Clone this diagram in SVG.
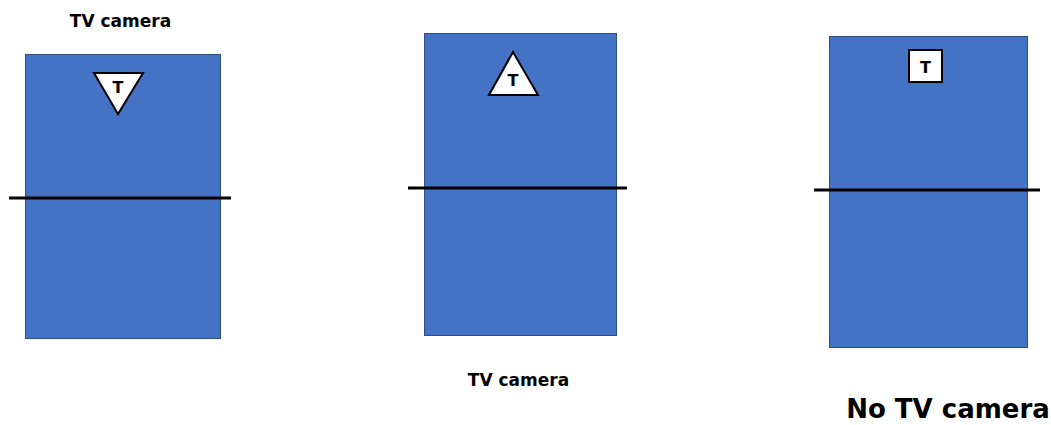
<svg xmlns="http://www.w3.org/2000/svg" width="1051" height="425" viewBox="0 0 1051 425">
<style>
.box{fill:#4472c4;stroke:#2f4f7f;stroke-width:1}
.line{stroke:#000;stroke-width:3}
.mark{fill:#fff;stroke:#000;stroke-width:2}
.t{font-family:"DejaVu Sans",Verdana,sans-serif;font-weight:bold;fill:#000}
</style>
<rect width="1051" height="425" fill="#fff"/>
<g id="panel1">
<rect class="box" x="25.5" y="54.5" width="195" height="284"/>
<line class="line" x1="9" y1="198" x2="231" y2="198"/>
<polygon class="mark" points="94,73 143,73 118,114"/>
<text class="t" x="118" y="93" font-size="16" text-anchor="middle">T</text>
<text class="t" x="120.5" y="27" font-size="17" text-anchor="middle">TV camera</text>
</g>
<g id="panel2">
<rect class="box" x="424.5" y="33.5" width="192" height="302"/>
<line class="line" x1="408" y1="188" x2="627" y2="188"/>
<polygon class="mark" points="513,52 538,95 489,95"/>
<text class="t" x="513" y="86" font-size="16" text-anchor="middle">T</text>
<text class="t" x="518.5" y="386" font-size="17" text-anchor="middle">TV camera</text>
</g>
<g id="panel3">
<rect class="box" x="829.5" y="36.5" width="198" height="311"/>
<line class="line" x1="814" y1="190" x2="1040" y2="190"/>
<rect class="mark" x="909" y="50" width="33" height="32"/>
<text class="t" x="925.5" y="73" font-size="16" text-anchor="middle">T</text>
<text class="t" x="948" y="418" font-size="26" text-anchor="middle">No TV camera</text>
</g>
<g id="connectors"></g>
</svg>
